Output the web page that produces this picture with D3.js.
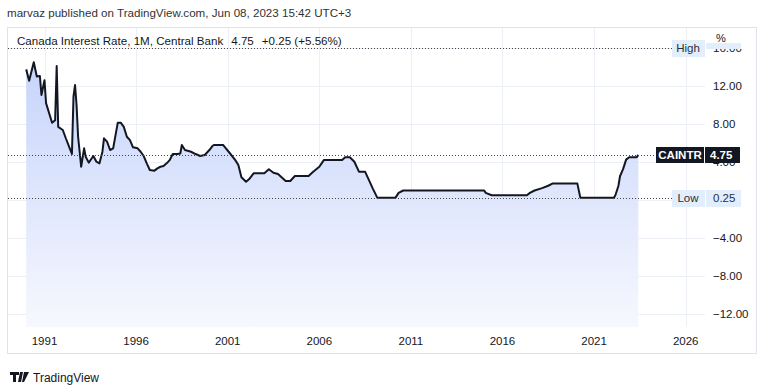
<!DOCTYPE html>
<html><head><meta charset="utf-8">
<script src="https://cdn.jsdelivr.net/npm/d3@7"></script>
<style>
html,body{margin:0;padding:0;background:#fff;}
svg{display:block;font-family:"Trebuchet MS","Liberation Sans","DejaVu Sans",sans-serif;}
</style></head>
<body><svg id="c" width="768" height="389"></svg>
<script>
const dates = ["1990-01","1990-03","1990-06","1990-08","1990-10","1990-11","1991-01","1991-02","1991-06","1991-08","1991-09","1991-10",
"1992-01","1992-03","1992-06","1992-07","1992-08","1992-09","1992-10","1992-11","1993-01","1993-03","1993-04","1993-06","1993-08","1993-09","1993-11",
"1994-01","1994-03","1994-04","1994-06","1994-08","1994-10","1995-01","1995-03","1995-05","1995-07","1995-09","1995-11",
"1996-02","1996-04","1996-06","1996-08","1996-10","1997-01","1997-03","1997-05","1997-07","1997-09","1997-11",
"1998-01","1998-04","1998-06","1998-07","1998-09","1999-01","1999-04","1999-07","1999-10","2000-01","2000-03","2000-04","2000-10","2000-11",
"2001-02","2001-06","2001-08","2001-10","2002-01","2002-03","2002-06","2003-01","2003-04","2003-07","2003-10","2004-03","2004-06","2004-09",
"2005-06","2005-09","2006-01","2006-04","2007-04","2007-06","2007-09","2007-12","2008-03","2008-07","2008-09","2008-12","2009-03",
"2010-03","2010-05","2010-08","2015-01","2015-02","2015-06","2017-05","2017-07","2017-10","2018-03","2018-07","2018-10","2020-02","2020-04",
"2022-02","2022-03","2022-04","2022-05","2022-06","2022-08","2022-09","2022-10","2022-12","2023-05","2023-06"];
const rates = [13.75,12.56,14.5,13.0,13.05,11.05,12.6,10.2,8.14,8.4,14.1,7.7,
7.37,6.5,5.26,4.84,10.9,12.1,10.0,6.66,3.5,5.44,4.56,3.93,4.39,4.63,4.03,
3.86,5.08,6.49,6.14,5.26,5.44,8.14,8.14,7.7,6.66,6.3,5.55,
5.44,5.08,4.63,3.86,3.16,3.09,3.33,3.5,3.58,3.86,4.2,
4.84,4.84,4.9,5.79,5.26,5.08,4.84,4.63,4.74,5.26,5.68,5.79,5.79,5.6,
5.0,4.2,3.68,2.4,1.93,2.18,2.81,2.81,3.23,2.87,2.74,2.0,2.0,2.53,
2.53,2.98,3.5,4.2,4.2,4.5,4.5,4.03,2.98,2.98,2.28,1.23,0.25,
0.25,0.75,1.0,1.0,0.75,0.5,0.5,0.75,1.0,1.25,1.5,1.75,1.75,0.25,
0.25,0.5,1.0,1.5,2.5,3.25,3.75,4.25,4.5,4.5,4.75];
const yTicks = [16,12,8,4,0,-4,-8,-12];
const xTickYears = [1991,1996,2001,2006,2011,2016,2021,2026];
const lastValue = 4.75, highValue = 16.0, lowValue = 0.25;

const parse = d3.timeParse("%Y-%m");
const data = dates.map((d,i)=>({date:parse(d), v:rates[i]}));

const svg = d3.select("#c");
const x = d3.scaleTime().domain([new Date(1991,0,1), new Date(2026,0,1)]).range([44.5, 685.7]);
const y = d3.scaleLinear().domain([-12,16]).range([314,48]);
const L = 7, R = 757, T = 27, B = 354, plotR = 705, plotB = 327;

// header
svg.append("text").attr("x",7).attr("y",17).attr("font-size",11.6).attr("fill","#333")
  .text("marvaz published on TradingView.com, Jun 08, 2023 15:42 UTC+3");

// frame
svg.append("rect").attr("x",L+0.5).attr("y",T+0.5).attr("width",R-L-1).attr("height",B-T-1)
  .attr("fill","#fff").attr("stroke","#e0e3eb");

const defs = svg.append("defs");
defs.append("clipPath").attr("id","pc").append("rect").attr("x",L+1).attr("y",T+1).attr("width",plotR-L-1).attr("height",plotB-T-1);
const grad = defs.append("linearGradient").attr("id","g").attr("gradientUnits","userSpaceOnUse")
  .attr("x1",0).attr("x2",0).attr("y1",60).attr("y2",plotB);
grad.append("stop").attr("offset",0).attr("stop-color","#c6d4fb");
grad.append("stop").attr("offset",1).attr("stop-color","#f7f8fe");

const plot = svg.append("g").attr("clip-path","url(#pc)");
// gridlines
plot.selectAll(".hg").data(yTicks).join("line")
  .attr("x1",L).attr("x2",plotR).attr("y1",d=>Math.round(y(d))+0.5).attr("y2",d=>Math.round(y(d))+0.5)
  .attr("stroke","#eceff6");
plot.selectAll(".vg").data(xTickYears).join("line")
  .attr("x1",d=>Math.round(x(new Date(d,0,1)))+0.5).attr("x2",d=>Math.round(x(new Date(d,0,1)))+0.5)
  .attr("y1",T).attr("y2",plotB).attr("stroke","#eceff6");

// area + line
plot.append("path").datum(data)
  .attr("d", d3.area().x(d=>x(d.date)).y0(plotB).y1(d=>y(d.v)))
  .attr("fill","url(#g)");
plot.append("path").datum(data)
  .attr("d", d3.line().x(d=>x(d.date)).y(d=>y(d.v)))
  .attr("fill","none").attr("stroke","#131722").attr("stroke-width",2).attr("stroke-linejoin","round");

// dotted lines
function dotted(v, x2){
  svg.append("line").attr("x1",L+1).attr("x2",x2).attr("y1",Math.round(y(v))+0.5).attr("y2",Math.round(y(v))+0.5)
    .attr("stroke","#444").attr("stroke-dasharray","1,2");
}
dotted(highValue, 672);
dotted(lastValue, 656);
dotted(lowValue, 672);

const hy = Math.round(y(highValue));
const ly = Math.round(y(lowValue));
const cy = Math.round(y(lastValue));

// clip regions for tick labels partly covered by markers
defs.append("clipPath").attr("id","c16").append("rect").attr("x",706).attr("y",hy+1).attr("width",50).attr("height",10);
defs.append("clipPath").attr("id","c4").append("rect").attr("x",706).attr("y",cy+8).attr("width",50).attr("height",10);

// y axis labels (0.00 is fully covered by the Low marker)
const yAxis = svg.append("g");
yAxis.selectAll("text").data(yTicks.filter(d=>d!==0)).join("text")
  .attr("x",713).attr("y",d=>y(d)+4).attr("font-size",11.5).attr("fill","#131722")
  .attr("clip-path",d=> d===16 ? "url(#c16)" : d===4 ? "url(#c4)" : null)
  .text(d=> (d<0?"\u2212":"") + Math.abs(d).toFixed(2));
svg.append("text").attr("x",716).attr("y",42).attr("font-size",11).attr("fill","#131722").text("%");

// x axis labels
svg.append("g").selectAll("text").data(xTickYears).join("text")
  .attr("x",d=>x(new Date(d,0,1))).attr("y",345).attr("text-anchor","middle")
  .attr("font-size",11.5).attr("fill","#131722").text(d=>d);

// High label
svg.append("rect").attr("x",672).attr("y",hy-8).attr("width",33).attr("height",17).attr("fill","#e3eefc");
svg.append("text").attr("x",688).attr("y",hy+4).attr("text-anchor","middle").attr("font-size",11.5).attr("fill","#2a2e39").text("High");
svg.append("rect").attr("x",706).attr("y",hy-5).attr("width",35).attr("height",6).attr("fill","#e3eefc");

// Low label
svg.append("rect").attr("x",672).attr("y",ly-8).attr("width",33).attr("height",17).attr("fill","#e3eefc");
svg.append("text").attr("x",688).attr("y",ly+4).attr("text-anchor","middle").attr("font-size",11.5).attr("fill","#2a2e39").text("Low");
svg.append("rect").attr("x",706).attr("y",ly-8).attr("width",35).attr("height",17).attr("fill","#e3eefc");
svg.append("text").attr("x",713).attr("y",ly+4).attr("font-size",11.5).attr("fill","#2a2e39").text(lowValue.toFixed(2));

// Last value label
svg.append("rect").attr("x",656).attr("y",cy-8).attr("width",48).attr("height",16).attr("fill","#131722");
svg.append("text").attr("x",680).attr("y",cy+4).attr("text-anchor","middle").attr("font-size",11.5).attr("font-weight","bold").attr("fill","#fff").text("CAINTR");
svg.append("rect").attr("x",705).attr("y",cy-8).attr("width",35).attr("height",16).attr("fill","#131722");
svg.append("text").attr("x",710).attr("y",cy+4).attr("font-size",11.5).attr("font-weight","bold").attr("fill","#fff").text(lastValue.toFixed(2));

// legend
const lg = svg.append("text").attr("x",17).attr("y",45).attr("font-size",11.6).attr("fill","#131722");
lg.append("tspan").text("Canada Interest Rate, 1M, Central Bank");
lg.append("tspan").attr("dx",8).text(lastValue.toFixed(2));
lg.append("tspan").attr("dx",8).text("+0.25 (+5.56%)");

// footer logo
const lgG = svg.append("g").attr("fill","#131722");
lgG.append("path").attr("d","M10 372h9v3h-3v7h-3v-7h-3z");
lgG.append("path").attr("d","M20 372h3l-2 10h-3z M24 372h5l-5 10h-2z");
svg.append("text").attr("x",33).attr("y",382).attr("font-size",12).attr("fill","#131722").text("TradingView");
</script></body></html>
